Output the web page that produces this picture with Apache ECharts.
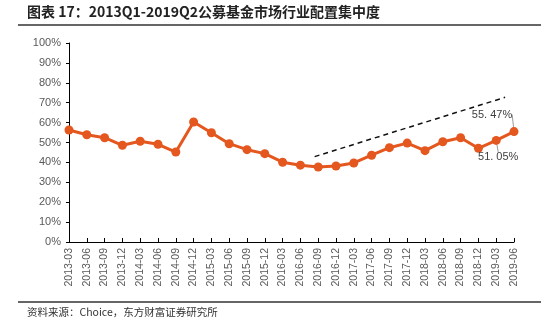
<!DOCTYPE html>
<html><head><meta charset="utf-8">
<script src="https://cdn.jsdelivr.net/npm/echarts@6/dist/echarts.min.js"></script>
<style>html,body{margin:0;padding:0;background:#fff}#c{width:553px;height:333px}</style>
</head><body><div id="c"></div>
<script>
const categories = ['2013-03','2013-06','2013-09','2013-12','2014-03','2014-06','2014-09','2014-12','2015-03','2015-06','2015-09','2015-12','2016-03','2016-06','2016-09','2016-12','2017-03','2017-06','2017-09','2017-12','2018-03','2018-06','2018-09','2018-12','2019-03','2019-06'];
const concentration = [56.3,53.9,52.4,48.6,50.6,49.1,45.2,60.3,54.9,49.4,46.4,44.4,40.1,38.6,37.7,38.2,39.7,43.6,47.4,49.7,45.9,50.4,52.4,47.1,51.05,55.47];
const trendLine = [[13.8,42.9],[24.5,72.7]];
const yTicks = [0,10,20,30,40,50,60,70,80,90,100];

const chart = echarts.init(document.getElementById('c'));
const grey = '#595959';
chart.setOption({
  animation:false,
  graphic:[
    {type:'text',left:27,top:5,style:{text:'图表 17：2013Q1-2019Q2公募基金市场行业配置集中度',font:'bold 14px "Noto Sans CJK SC"',fill:'#222'}},
    {type:'line',shape:{x1:18,y1:25,x2:541,y2:25},style:{stroke:'#333',lineWidth:1.5}},
    {type:'line',shape:{x1:18,y1:302,x2:541,y2:302},style:{stroke:'#333',lineWidth:1.5}},
    {type:'text',left:27,top:307,style:{text:'资料来源：Choice，东方财富证券研究所',font:'10.5px "Noto Sans CJK SC"',fill:'#333'}}
  ],
  grid:{left:69,right:39,top:43,bottom:91,containLabel:false},
  xAxis:[{
    type:'category',data:categories,boundaryGap:false,
    axisLine:{lineStyle:{color:'#000',width:1}},
    axisTick:{inside:true,length:4,lineStyle:{color:'#000'},alignWithLabel:true},
    axisLabel:{rotate:90,interval:0,color:grey,fontSize:10.5,fontFamily:'Liberation Sans',margin:6}
  },{
    type:'value',min:0,max:25,show:false
  }],
  yAxis:{
    type:'value',min:0,max:100,interval:10,
    axisLine:{show:true,lineStyle:{color:'#000'}},
    axisTick:{show:true,length:3,lineStyle:{color:'#000'}},
    splitLine:{show:false},
    axisLabel:{color:grey,fontSize:11,fontFamily:'Liberation Sans',margin:8,formatter:v=>yTicks.includes(v)?v+'%':''}
  },
  series:[{
    type:'line',data:concentration.map((v,i)=>{
      const d={value:v};
      if(i===24) d.label={show:true,formatter:'51. 05%'};
      if(i===25) d.label={show:true,formatter:'55. 47%'};
      return d;
    }),
    symbol:'circle',symbolSize:9,
    lineStyle:{color:'#E4571E',width:3},
    itemStyle:{color:'#E4571E'},
    label:{show:false,position:'inside',color:'#404040',fontSize:11,fontFamily:'Liberation Sans'},
    labelLine:{show:true,lineStyle:{color:'#999',width:1}},
    labelLayout:function(p){
      if(p.dataIndex===25) return {dx:-22,dy:-17};
      if(p.dataIndex===24) return {dx:2,dy:17};
      return {};
    },
    z:3
  },{
    type:'line',xAxisIndex:1,data:trendLine,symbol:'none',
    lineStyle:{color:'#111',width:1.5,type:[5,4]},silent:true,z:2
  }]
});
</script></body></html>
